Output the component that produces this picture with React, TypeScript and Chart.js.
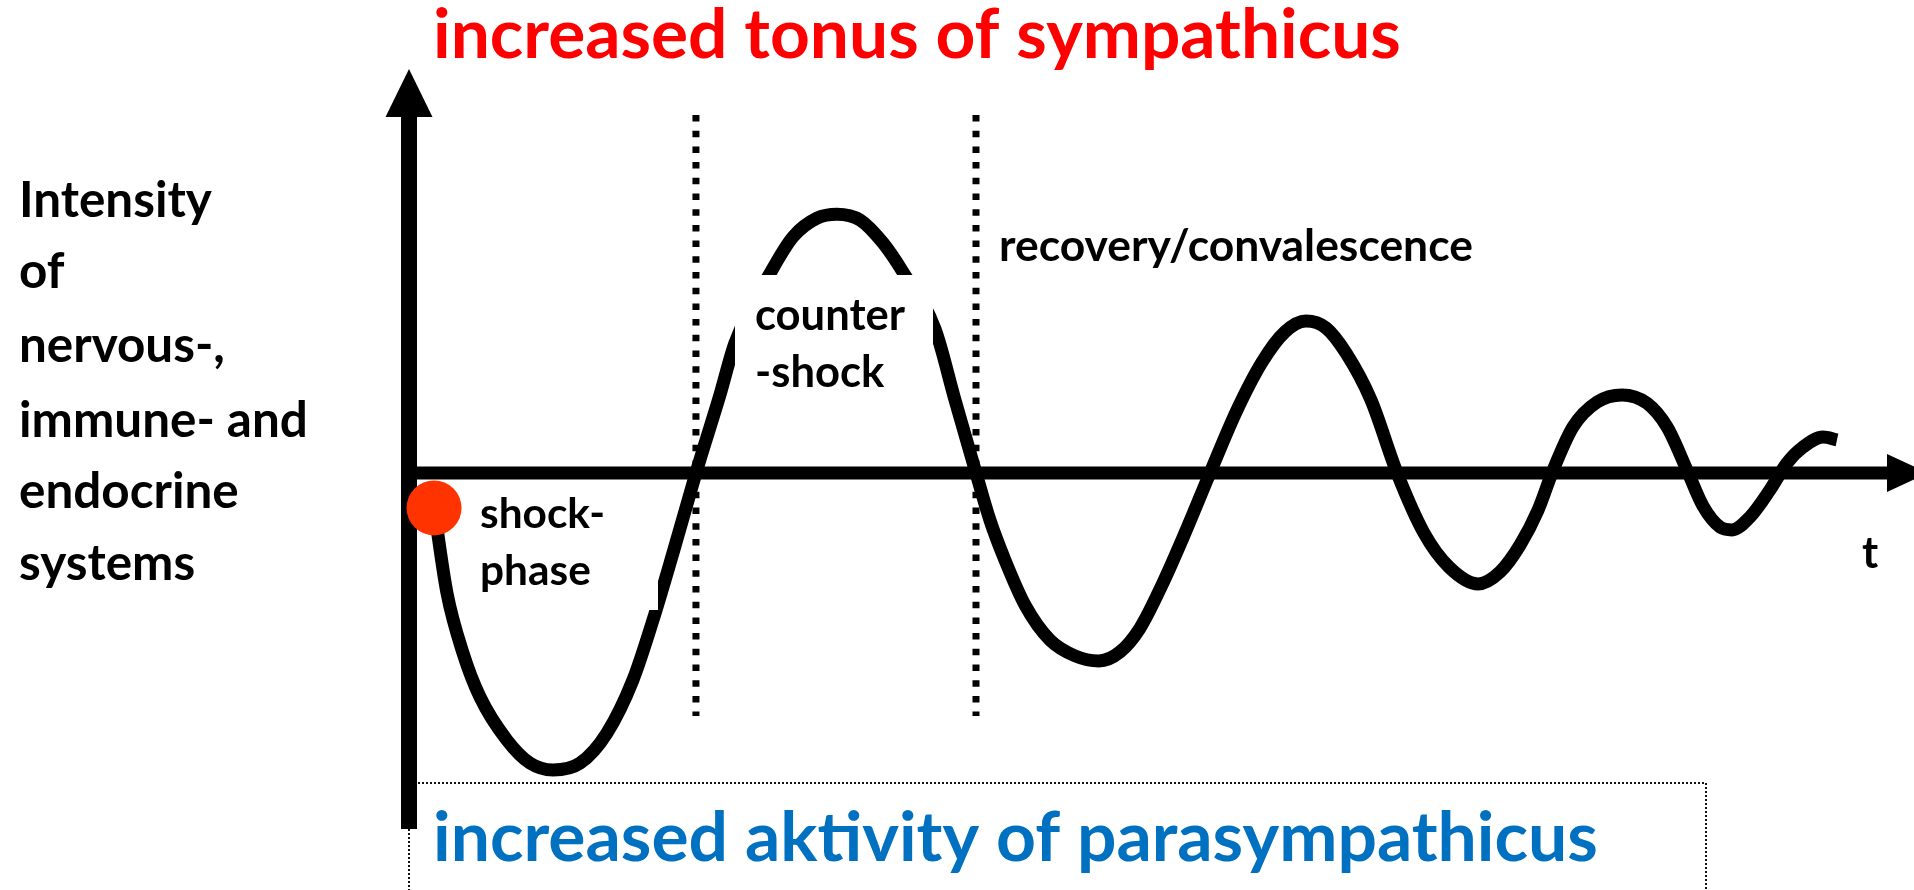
import { useEffect, useRef } from "react";
import { Chart, registerables } from "chart.js";

Chart.register(...registerables);

const W = 1914;
const H = 890;

// time (arbitrary units) and intensity (relative, 0 = baseline)
const tValues = [
  1.67, 2.53, 3.6, 4.73, 6.53, 8.07, 9.6, 11.4, 13.2, 14.93, 16.27, 17.6, 19.13,
  20.73, 21.73, 24.2, 25.6, 27.2, 28.53, 30.07, 31.6, 32.93, 35.07, 36.4, 37.8,
  38.73, 39.73, 41.07, 42.73, 44.4, 46.0, 47.4, 48.73, 50.2, 51.73, 53.4, 55.2,
  56.87, 58.4, 59.8, 61.13, 62.47, 64.13, 65.87, 67.67, 69.33, 71.27, 72.73, 74.07,
  75.27, 76.2, 77.6, 79.2, 80.87, 82.53, 83.87, 85.2, 86.27, 87.4, 88.2, 89.4, 90.73,
  91.87, 92.93, 94.27, 95.2,
];
const intensity = [
  -0.097, -0.333, -0.5, -0.622, -0.742, -0.806, -0.825, -0.806, -0.722, -0.575, -0.408, -0.222, 0,
  0.217, 0.361, 0.564, 0.656, 0.708, 0.719, 0.703, 0.639, 0.558, 0.4, 0.203, 0,
  -0.131, -0.242, -0.367, -0.464, -0.508, -0.522, -0.497, -0.431, -0.311, -0.167, 0, 0.175,
  0.308, 0.392, 0.422, 0.403, 0.333, 0.203, 0, -0.167, -0.261, -0.308, -0.275, -0.2,
  -0.103, 0, 0.128, 0.197, 0.217, 0.194, 0.128, 0.008, -0.092, -0.15, -0.158, -0.122, -0.047,
  0.028, 0.072, 0.1, 0.092,
];
const phaseBoundaries = [19.13, 37.8];

const yAxisLabel = ["Intensity", "of", "nervous-,", "immune- and", "endocrine", "systems"];
const topCaption = "increased tonus of sympathicus";
const bottomCaption = "increased aktivity of parasympathicus";
const shockLabel = ["shock-", "phase"];
const counterLabel = ["counter", "-shock"];
const recoveryLabel = "recovery/convalescence";
const timeLabel = "t";

const FAMILY = "Lato, 'Open Sans', 'DejaVu Sans', sans-serif";

function fitSize(ctx: CanvasRenderingContext2D, text: string, target: number) {
  ctx.font = `bold 100px ${FAMILY}`;
  return (100 * target) / ctx.measureText(text).width;
}

const overlay = {
  id: "overlay",
  beforeDatasetsDraw(chart: any) {
    const ctx: CanvasRenderingContext2D = chart.ctx;
    const xs = chart.scales.x;
    const ys = chart.scales.y;
    const x0 = xs.getPixelForValue(0);
    const y0 = ys.getPixelForValue(0);
    ctx.save();
    ctx.fillStyle = "#000";
    // vertical axis with arrow
    ctx.fillRect(x0 - 8, 116, 16, 829 - 116);
    ctx.beginPath();
    ctx.moveTo(x0, 69);
    ctx.lineTo(x0 - 23.5, 117);
    ctx.lineTo(x0 + 23.5, 117);
    ctx.closePath();
    ctx.fill();
    // horizontal axis with arrow
    ctx.fillRect(x0 - 8, y0 - 6.5, 1888 - (x0 - 8), 13);
    ctx.beginPath();
    ctx.moveTo(1887, y0 - 19);
    ctx.lineTo(1928, y0);
    ctx.lineTo(1887, y0 + 19);
    ctx.closePath();
    ctx.fill();
    // phase boundaries (dotted)
    ctx.strokeStyle = "#000";
    ctx.lineWidth = 7;
    ctx.setLineDash([6.5, 9.2]);
    phaseBoundaries.forEach((t) => {
      const x = xs.getPixelForValue(t);
      ctx.beginPath();
      ctx.moveTo(x, 115);
      ctx.lineTo(x, 716);
      ctx.stroke();
    });
    // thin dotted frame round the lower caption
    ctx.lineWidth = 2;
    ctx.setLineDash([2, 2]);
    ctx.strokeStyle = "#111";
    ctx.beginPath();
    ctx.moveTo(418, 783);
    ctx.lineTo(1706, 783);
    ctx.lineTo(1706, H);
    ctx.stroke();
    ctx.beginPath();
    ctx.moveTo(x0, 829);
    ctx.lineTo(x0, H);
    ctx.stroke();
    ctx.restore();
  },
  afterDatasetsDraw(chart: any) {
    const ctx: CanvasRenderingContext2D = chart.ctx;
    ctx.save();
    // white text boxes that hide parts of the curve
    ctx.fillStyle = "#fff";
    ctx.fillRect(735, 275, 198, 125);
    ctx.fillRect(470, 490, 188, 120);

    ctx.textBaseline = "alphabetic";
    ctx.textAlign = "left";

    // captions
    let s = fitSize(ctx, topCaption, 968);
    ctx.font = `bold ${s}px ${FAMILY}`;
    ctx.fillStyle = "#FF0000";
    ctx.fillText(topCaption, 433, 58);

    s = fitSize(ctx, bottomCaption, 1165);
    ctx.font = `bold ${s}px ${FAMILY}`;
    ctx.fillStyle = "#0070C0";
    ctx.fillText(bottomCaption, 433, 861);

    ctx.fillStyle = "#000";
    // y-axis description
    s = fitSize(ctx, yAxisLabel[0], 193);
    ctx.font = `bold ${s}px ${FAMILY}`;
    const ly = [217, 288, 362, 437, 508, 580];
    yAxisLabel.forEach((l, i) => ctx.fillText(l, 19, ly[i]));

    // phase labels
    s = fitSize(ctx, shockLabel[0], 125);
    ctx.font = `bold ${s}px ${FAMILY}`;
    ctx.fillText(shockLabel[0], 480, 528);
    ctx.fillText(shockLabel[1], 480, 585);

    s = fitSize(ctx, counterLabel[0], 150);
    ctx.font = `bold ${s}px ${FAMILY}`;
    ctx.fillText(counterLabel[0], 755, 330);
    ctx.fillText(counterLabel[1], 755, 387);
    ctx.fillText(timeLabel, 1862, 568);

    s = fitSize(ctx, recoveryLabel, 474);
    ctx.font = `bold ${s}px ${FAMILY}`;
    ctx.fillText(recoveryLabel, 999, 261);
    ctx.restore();
  },
};

export default function App() {
  const ref = useRef<HTMLCanvasElement | null>(null);
  useEffect(() => {
    if (!ref.current) return;
    const curve = tValues.map((t, i) => ({ x: t, y: intensity[i] }));
    const chart = new Chart(ref.current, {
      type: "line",
      data: {
        datasets: [
          {
            label: "start",
            data: [curve[0]],
            showLine: false,
            pointRadius: 27.5,
            pointBackgroundColor: "#FF3300",
            pointBorderWidth: 0,
            borderWidth: 0,
            clip: false as any,
            order: 0,
          } as any,
          {
            label: "intensity",
            data: curve,
            borderColor: "#000",
            borderWidth: 13,
            pointRadius: 0,
            cubicInterpolationMode: "monotone",
            borderJoinStyle: "round",
            fill: false,
            clip: false as any,
            order: 1,
          } as any,
        ],
      },
      options: {
        responsive: false,
        animation: false,
        devicePixelRatio: 1,
        events: [],
        layout: { padding: { left: 409, right: 28, top: 113, bottom: 57 } },
        scales: {
          x: { type: "linear", min: 0, max: 98.4667, display: false },
          y: { type: "linear", min: -1, max: 1, display: false },
        },
        plugins: {
          legend: { display: false },
          title: { display: false },
          tooltip: { enabled: false },
        },
      },
      plugins: [overlay],
    });
    return () => chart.destroy();
  }, []);
  return (
    <div style={{ position: "fixed", left: 0, top: 0, width: W, height: H, background: "#fff" }}>
      <canvas ref={ref} width={W} height={H} style={{ display: "block" }} />
    </div>
  );
}
